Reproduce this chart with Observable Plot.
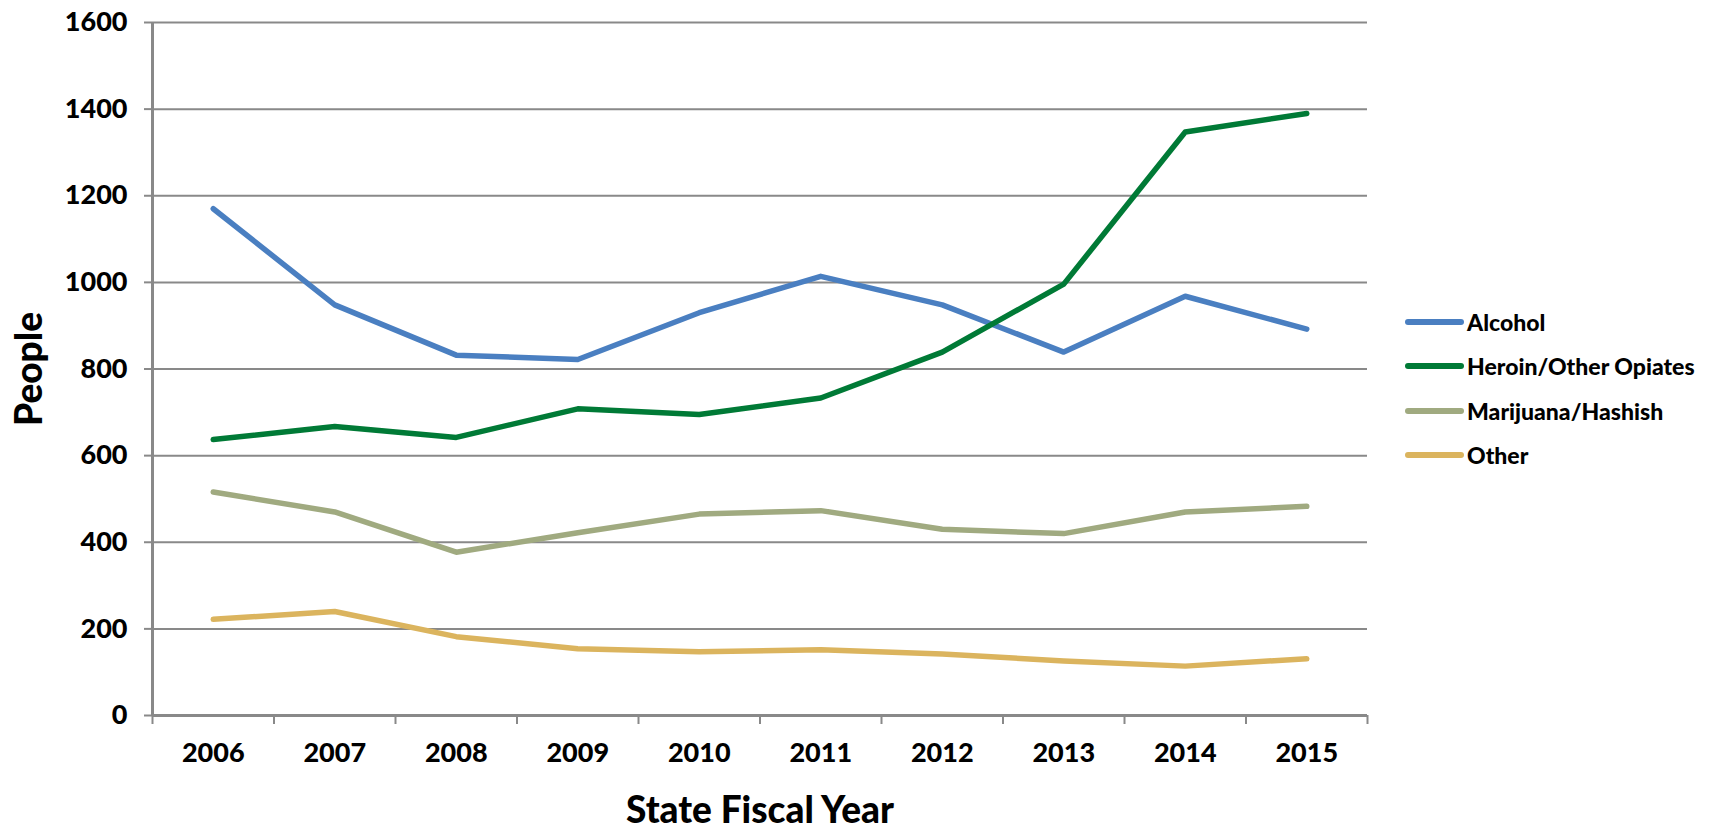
<!DOCTYPE html>
<html><head><meta charset="utf-8">
<script src="https://cdn.jsdelivr.net/npm/d3@7"></script>
<script src="https://cdn.jsdelivr.net/npm/@observablehq/plot@0.6"></script>
<style>
body{margin:0;background:#fff;font-family:Lato,"DejaVu Sans",sans-serif;}
#wrap{position:relative;width:1716px;height:830px;}
#legend{position:absolute;left:1404px;top:300px;font-family:Lato,sans-serif;font-weight:900;font-size:23px;color:#000;}
#legend .item{display:flex;align-items:center;height:44.3px;}
#legend svg{margin-right:3px;}
</style></head><body><div id="wrap"><div id="legend"></div></div>
<script>
const years = [2006, 2007, 2008, 2009, 2010, 2011, 2012, 2013, 2014, 2015];
const seriesNames = ["Alcohol", "Heroin/Other Opiates", "Marijuana/Hashish", "Other"];
const colors = ["#4a7fc1", "#007a36", "#a0aa80", "#dbb45e"];
const alcohol   = [1170, 948, 832, 822, 930, 1014, 948, 839, 968, 892];
const heroin    = [637, 667, 642, 708, 695, 733, 839, 996, 1347, 1390];
const marijuana = [516, 470, 377, 422, 465, 473, 430, 420, 470, 483];
const other     = [222, 240, 182, 154, 147, 152, 142, 126, 114, 131];
const yTicks = [0, 200, 400, 600, 800, 1000, 1200, 1400, 1600];
const xTitle = "State Fiscal Year";
const yTitle = "People";

const values = [alcohol, heroin, marijuana, other];
const data = seriesNames.flatMap((s, i) => years.map((yr, j) => ({series: s, year: yr, value: values[i][j]})));
const boundaries = [...years.map(y => y - 0.5), years[years.length - 1] + 0.5];
const grid = "#898989";

const chart = Plot.plot({
  width: 1716, height: 830,
  marginLeft: 152, marginRight: 349, marginTop: 22, marginBottom: 115,
  style: {fontFamily: "Lato, sans-serif", fontWeight: 900, color: "#000", background: "transparent"},
  x: {domain: [boundaries[0], boundaries[boundaries.length - 1]]},
  y: {domain: [0, 1600]},
  color: {domain: seriesNames, range: colors},
  marks: [
    Plot.ruleY(yTicks.filter(d => d > 0), {stroke: grid, strokeWidth: 2}),
    Plot.ruleX([boundaries[0]], {stroke: grid, strokeWidth: 3}),
    Plot.ruleY([0], {stroke: grid, strokeWidth: 3}),
    Plot.axisX(boundaries, {tickSize: 9, stroke: grid, strokeWidth: 2, tickFormat: () => "", label: null}),
    Plot.axisX(years, {tickSize: 0, tickPadding: 27, tickFormat: d => String(d), fontSize: 27, fontWeight: 900, label: null}),
    Plot.axisY(yTicks, {tickSize: 8, tickPadding: 17, stroke: grid, strokeWidth: 2, tickFormat: d => String(d), fontSize: 27, fontWeight: 900, label: null}),
    Plot.line(data, {x: "year", y: "value", stroke: "series", strokeWidth: 5.5, strokeLinecap: "round", strokeLinejoin: "round"}),
    Plot.text([yTitle], {frameAnchor: "left", dx: -122, rotate: -90, textAnchor: "middle", lineAnchor: "middle", fontSize: 37, fontWeight: 900}),
    Plot.text([xTitle], {frameAnchor: "bottom", dy: 96, textAnchor: "middle", lineAnchor: "middle", fontSize: 37, fontWeight: 900})
  ]
});
document.getElementById("wrap").prepend(chart);

const legend = document.getElementById("legend");
seriesNames.forEach((s, i) => {
  const item = document.createElement("div");
  item.className = "item";
  item.innerHTML = `<svg width="60" height="10"><line x1="4" y1="5" x2="57" y2="5" stroke="${colors[i]}" stroke-width="6" stroke-linecap="round"/></svg><span>${s}</span>`;
  legend.appendChild(item);
});
</script>
</body></html>
